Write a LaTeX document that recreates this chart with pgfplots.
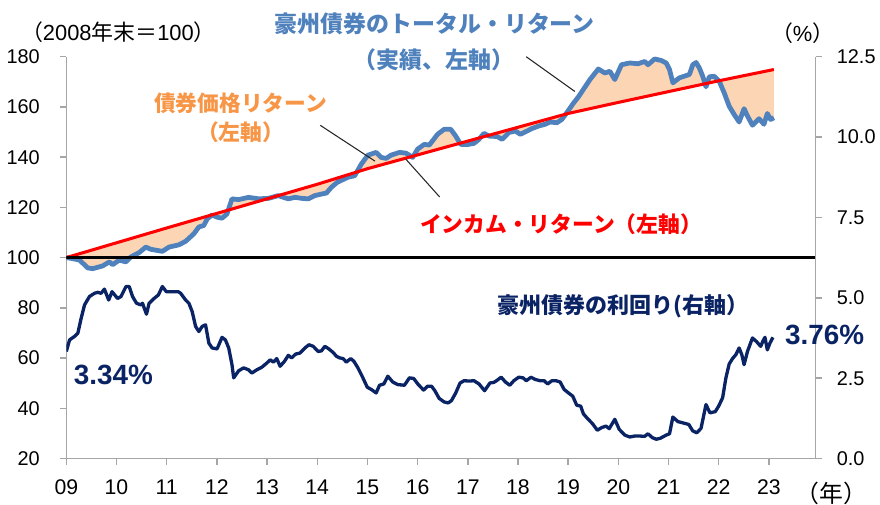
\documentclass[border=0pt]{standalone}
\usepackage{pgfplots}
\pgfplotsset{compat=1.18}
\usepackage{pgfplotstable}
\usepgfplotslibrary{fillbetween}
\usepackage{fontspec}
\setmainfont{Liberation Sans}
\newfontfamily\jp{Noto Sans CJK JP}
\definecolor{trblue}{RGB}{79,129,189}
\definecolor{peach}{RGB}{252,213,180}
\definecolor{navy}{RGB}{10,35,100}
\definecolor{orangetxt}{RGB}{247,150,70}
\definecolor{axgray}{RGB}{166,166,166}

\pgfplotstableread{
x y
9.000 100
9.125 99.6
9.264 99.0
9.428 95.9
9.527 95.6
9.725 96.7
9.858 98.3
9.923 97.2
10.056 99.0
10.189 98.3
10.288 100.3
10.452 102.0
10.585 104.2
10.684 103.3
10.914 102.5
11.047 104.2
11.245 105.1
11.378 106.5
11.542 109.5
11.641 112.2
11.740 112.8
11.806 115.4
11.905 117.0
12.004 116.1
12.103 115.7
12.202 117.4
12.301 123.4
12.434 123.1
12.632 124.0
12.830 123.4
13.028 123.6
13.226 124.7
13.325 124.0
13.424 123.4
13.557 124.0
13.688 123.6
13.821 123.4
13.953 124.7
14.084 125.3
14.183 125.7
14.282 128.0
14.400 130.0
14.613 132.0
14.746 132.6
14.877 137.2
15.009 140.8
15.174 141.9
15.273 139.9
15.372 139.5
15.471 140.8
15.638 141.9
15.768 141.6
15.901 139.9
16.000 143.2
16.133 145.1
16.232 144.8
16.397 149.1
16.529 151.1
16.660 151.1
16.759 148.4
16.858 145.1
16.991 145.0
17.124 145.5
17.223 147.1
17.322 149.5
17.421 148.4
17.585 148.2
17.684 147.1
17.817 149.8
17.948 150.4
18.047 149.1
18.180 150.4
18.279 151.4
18.412 152.4
18.542 153.1
18.642 154.0
18.774 153.7
18.873 155.0
18.972 157.7
19.105 161.5
19.204 164.0
19.303 167.0
19.434 170.9
19.600 175.1
19.731 173.5
19.830 174.2
19.929 170.9
20.062 176.8
20.227 177.5
20.393 177.2
20.524 178.1
20.591 176.8
20.722 179.1
20.855 178.5
20.954 177.5
21.019 174.9
21.086 169.6
21.217 171.6
21.415 172.9
21.483 176.8
21.548 177.7
21.614 175.5
21.681 172.2
21.746 168.0
21.812 172.0
21.911 172.2
22.010 170.2
22.109 165.6
22.208 160.3
22.307 157.0
22.406 154.0
22.505 159.3
22.572 156.4
22.672 152.7
22.802 155.3
22.901 153.1
22.968 157.4
23.034 155.0
23.099 155.7
}\trdata

\pgfplotstableread{
x y
9.0 100
10.0 105.9
11.0 111.8
12.0 117.6
13.0 123.4
14.0 129.2
15.0 135.4
16.0 140.9
17.0 146.4
18.0 151.9
19.0 157.4
20.0 161.8
21.0 166.1
22.0 170.4
23.099 174.9
}\irdata

\pgfplotstableread{
x y
9.000 3.33
9.065 3.69
9.164 3.80
9.230 3.90
9.297 4.37
9.363 4.78
9.462 5.04
9.561 5.14
9.626 5.17
9.693 5.14
9.759 5.27
9.844 4.93
9.911 5.19
10.022 4.98
10.090 5.04
10.189 5.35
10.254 5.35
10.320 5.04
10.399 4.83
10.486 4.78
10.518 4.83
10.597 4.49
10.650 4.83
10.750 4.98
10.835 5.09
10.914 5.35
10.993 5.19
11.112 5.19
11.231 5.19
11.279 5.14
11.378 4.93
11.443 4.83
11.508 4.57
11.576 4.11
11.641 3.95
11.707 4.11
11.774 4.16
11.841 3.59
11.905 3.44
12.004 3.41
12.103 3.77
12.170 3.69
12.236 3.44
12.301 2.92
12.335 2.51
12.434 2.73
12.533 2.82
12.632 2.76
12.697 2.66
12.796 2.76
12.895 2.84
12.995 2.97
13.062 3.07
13.127 3.00
13.193 3.11
13.260 2.87
13.345 3.02
13.424 3.21
13.490 3.13
13.569 3.25
13.656 3.28
13.755 3.44
13.835 3.54
13.920 3.49
14.019 3.33
14.084 3.35
14.152 3.49
14.231 3.41
14.316 3.30
14.382 3.18
14.449 3.13
14.514 3.11
14.580 3.00
14.667 3.11
14.732 3.02
14.811 2.82
14.910 2.51
14.996 2.22
15.075 2.15
15.174 2.04
15.241 2.28
15.327 2.32
15.406 2.56
15.505 2.38
15.604 2.30
15.737 2.28
15.836 2.51
15.921 2.49
16.014 2.30
16.119 2.13
16.198 2.25
16.278 2.25
16.343 2.11
16.430 1.87
16.529 1.76
16.609 1.73
16.674 1.80
16.759 2.04
16.846 2.35
16.926 2.42
17.025 2.41
17.124 2.42
17.223 2.32
17.334 2.11
17.441 2.35
17.520 2.37
17.571 2.42
17.665 2.53
17.750 2.38
17.837 2.28
17.916 2.42
18.015 2.53
18.101 2.51
18.166 2.42
18.259 2.53
18.344 2.46
18.443 2.42
18.523 2.42
18.590 2.32
18.675 2.42
18.760 2.42
18.840 2.38
18.919 2.15
19.006 2.04
19.091 1.94
19.170 1.66
19.250 1.63
19.303 1.39
19.382 1.25
19.487 1.08
19.580 0.88
19.665 0.96
19.751 1.01
19.818 0.93
19.929 1.22
20.016 0.91
20.127 0.73
20.227 0.67
20.326 0.70
20.425 0.70
20.524 0.69
20.591 0.77
20.676 0.65
20.755 0.60
20.835 0.63
20.954 0.73
21.019 0.77
21.086 1.29
21.185 1.15
21.284 1.11
21.403 1.06
21.482 0.86
21.562 0.80
21.647 0.94
21.746 1.68
21.825 1.42
21.931 1.46
21.998 1.63
22.077 1.89
22.143 2.51
22.208 2.94
22.275 3.11
22.341 3.23
22.406 3.44
22.460 3.23
22.505 2.92
22.572 3.33
22.672 3.75
22.751 3.64
22.836 3.49
22.882 3.66
22.921 3.77
22.968 3.38
23.020 3.59
23.080 3.77
}\yielddata

\begin{document}
\begin{tikzpicture}[px/.style={x=0.75pt,y=-0.75pt,shift={(-50pt,345.75pt)}}]
\begin{scope}[px]
\path[use as bounding box] (0,0) rectangle (880,506);
\end{scope}

\begin{axis}[
  at={(0,0)}, anchor=south west, scale only axis,
  width=565pt, height=303pt,
  xmin=9, xmax=23.93, ymin=20, ymax=180,
  axis x line*=bottom, axis y line*=left,
  axis line style={-, axgray, line width=1.1pt},
  xtick={9,10,...,23},
  xticklabels={09,10,11,12,13,14,15,16,17,18,19,20,21,22,23},
  ytick={20,40,...,180},
  tick style={axgray, line width=1.1pt},
  tick align=outside, major tick length=4.5pt,
  x tick label style={font=\fontsize{16}{18}\selectfont, yshift=-8pt},
  y tick label style={font=\fontsize{15}{17}\selectfont, xshift=-12pt},
  /pgf/number format/assume math mode=true,
  clip=true,
]
\addplot[draw=none, name path=TR, forget plot] table[x=x,y=y] {\trdata};
\addplot[draw=none, name path=IR, forget plot] table[x=x,y=y] {\irdata};
\addplot[fill=peach, draw=none] fill between[of=TR and IR];
\addplot[trblue, line width=3.6pt, line join=round] table[x=x,y=y] {\trdata};
\addplot[red, line width=2.3pt, line join=round] table[x=x,y=y] {\irdata};
\addplot[black, line width=1.7pt] coordinates {(9,100) (23.93,100)};
\end{axis}

\begin{axis}[
  at={(0,0)}, anchor=south west, scale only axis,
  width=565pt, height=303pt,
  xmin=9, xmax=23.93, ymin=0, ymax=12.5,
  axis x line=none, axis y line*=right,
  axis line style={-, axgray, line width=1.1pt},
  ytick={0,2.5,5,7.5,10,12.5},
  tick style={axgray, line width=1.1pt},
  tick align=outside, major tick length=4.5pt,
  y tick label style={font=\fontsize{15}{17}\selectfont, xshift=8pt,
    /pgf/number format/.cd, fixed, fixed zerofill, precision=1},
  /pgf/number format/assume math mode=true,
]
\addplot[navy, line width=2.5pt, line join=round] table[x=x,y=y] {\yielddata};
\end{axis}

\begin{scope}[px]
\draw[black!85, line width=0.8pt] (322,126) -- (377,162);
\draw[black!85, line width=0.8pt] (408,160) -- (442,198);
\draw[black!85, line width=0.8pt] (529,57) -- (578,92);
\node[inner sep=0pt] at (119,32) {\fontsize{16.5}{18}\selectfont{\jp （}2008{\jp 年末＝}100{\jp ）}};
\node[inner sep=0pt, text=trblue] at (437,24) {\jp\bfseries\fontsize{17.3}{19}\selectfont 豪州債券のトータル・リターン};
\node[inner sep=0pt, text=trblue] at (436,60) {\jp\bfseries\fontsize{17.3}{19}\selectfont （実績、左軸）};
\node[inner sep=0pt, text=orangetxt] at (242,104) {\jp\bfseries\fontsize{16.4}{18}\selectfont 債券価格リターン};
\node[inner sep=0pt, text=orangetxt] at (242,133) {\jp\bfseries\fontsize{16.4}{18}\selectfont （左軸）};
\node[inner sep=0pt, text=red] at (564,225) {\jp\bfseries\fontsize{16.4}{18}\selectfont インカム・リターン（左軸）};
\node[inner sep=0pt, text=navy] at (626,308) {\jp\bfseries\fontsize{16.6}{18}\selectfont 豪州債券の利回り(右軸）};
\node[inner sep=0pt, text=navy] at (114,377) {\bfseries\fontsize{21}{24}\selectfont 3.34\%};
\node[inner sep=0pt, text=navy] at (829,337) {\bfseries\fontsize{21}{24}\selectfont 3.76\%};
\node[inner sep=0pt] at (807,33) {\fontsize{16.5}{18}\selectfont{\jp （}\%{\jp ）}};
\node[inner sep=0pt] at (836,496) {\jp\fontsize{18}{20}\selectfont （年）};
\end{scope}
\end{tikzpicture}
\end{document}
